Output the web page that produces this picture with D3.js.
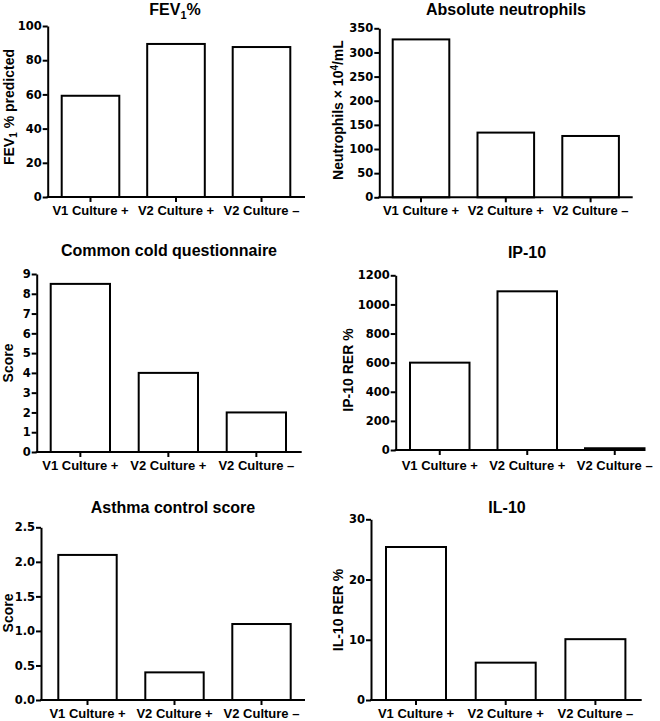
<!DOCTYPE html>
<html><head><meta charset="utf-8">
<script src="https://cdn.jsdelivr.net/npm/d3@7"></script>
<style>
body{margin:0;background:#fff;}
svg text{font-family:"Liberation Sans",Arial,Helvetica,sans-serif;font-weight:bold;fill:#000;}
svg .tick text{font-family:"DejaVu Sans",sans-serif;}
</style></head>
<body><svg id="c" width="660" height="721"></svg>
<script>
// ---- data ----
const categories = ["V1 Culture +", "V2 Culture +", "V2 Culture \u2013"];
const fev1Values = [59.2, 89.5, 87.7];
const neutrophilValues = [327, 134, 127];
const coldScoreValues = [8.5, 4.0, 2.0];
const ip10Values = [600, 1090, 12];
const asthmaValues = [2.1, 0.4, 1.1];
const il10Values = [25.4, 6.2, 10.1];
const fev1Ticks = [0, 20, 40, 60, 80, 100];
const neutrophilTicks = [0, 50, 100, 150, 200, 250, 300, 350];
const coldTicks = [0, 1, 2, 3, 4, 5, 6, 7, 8, 9];
const ip10Ticks = [0, 200, 400, 600, 800, 1000, 1200];
const asthmaTicks = [0, 0.5, 1.0, 1.5, 2.0, 2.5];
const il10Ticks = [0, 10, 20, 30];

// ---- layout ----
const panels = [
  {values: fev1Values, ticks: fev1Ticks, fmt: d3.format("d"), title: ["FEV", "1", "%"], ylab: "fev",
   ax: 47.7, y0: 197, yTop: 26, barStart: 61.7, barW: 57.6, step: 85.5, xEnd: 305,
   tx: 175, ty: 15, lx: 9, ly: 107, xlY: 215},
  {values: neutrophilValues, ticks: neutrophilTicks, fmt: d3.format("d"), title: ["Absolute neutrophils"], ylab: "neu",
   ax: 379.3, y0: 197.3, yTop: 28.3, barStart: 392.7, barW: 56.6, step: 84.8, xEnd: 632.7,
   tx: 506, ty: 15, lx: 338.5, ly: 110, xlY: 215},
  {values: coldScoreValues, ticks: coldTicks, fmt: d3.format("d"), title: ["Common cold questionnaire"], ylab: "Score",
   ax: 36.7, y0: 452, yTop: 274, barStart: 50.7, barW: 59.3, step: 88, xEnd: 301.7,
   tx: 169, ty: 256, lx: 8, ly: 363, xlY: 470},
  {values: ip10Values, ticks: ip10Ticks, fmt: d3.format("d"), title: ["IP-10"], ylab: "IP-10 RER %",
   ax: 395.7, y0: 450, yTop: 275.3, barStart: 410, barW: 59.5, step: 87.5, xEnd: 645,
   tx: 527, ty: 258, lx: 348, ly: 370, xlY: 470},
  {values: asthmaValues, ticks: asthmaTicks, fmt: d3.format(".1f"), title: ["Asthma control score"], ylab: "Score",
   ax: 41, y0: 700, yTop: 527.3, barStart: 58.3, barW: 58.4, step: 87, xEnd: 305,
   tx: 173, ty: 513, lx: 8, ly: 613, xlY: 718},
  {values: il10Values, ticks: il10Ticks, fmt: d3.format("d"), title: ["IL-10"], ylab: "IL-10 RER %",
   ax: 371, y0: 700, yTop: 519.3, barStart: 386, barW: 60, step: 89.7, xEnd: 641.7,
   tx: 507, ty: 513, lx: 338, ly: 610, xlY: 718}
];

const svg = d3.select("#c");

panels.forEach(p => {
  const g = svg.append("g");
  const yMax = p.ticks[p.ticks.length - 1];
  const y = d3.scaleLinear().domain([0, yMax]).range([p.y0, p.yTop]);
  const pad = p.step - p.barW;
  const inner = pad / p.step;
  const r0 = p.barStart - pad / 2;
  const x = d3.scaleBand().domain(categories)
    .range([r0, r0 + p.step * categories.length]).paddingInner(inner).paddingOuter(inner / 2);

  // bars
  g.selectAll("rect.bar").data(p.values).join("rect")
    .attr("class", "bar")
    .attr("x", (d, i) => x(categories[i]))
    .attr("width", x.bandwidth())
    .attr("y", d => y(d))
    .attr("height", d => p.y0 - y(d))
    .attr("fill", "#fff").attr("stroke", "#000").attr("stroke-width", 2);

  // y axis
  const ya = g.append("g").attr("transform", `translate(${p.ax},0)`)
    .call(d3.axisLeft(y).tickValues(p.ticks).tickFormat(p.fmt).tickSize(5).tickPadding(1).tickSizeOuter(0));
  ya.selectAll("path.domain").attr("stroke-width", 2);
  ya.selectAll(".tick line").attr("stroke-width", 2);
  ya.selectAll(".tick text").attr("font-size", 11.5).attr("font-family", null).attr("fill", "#000");

  // x axis
  const xa = g.append("g").attr("transform", `translate(0,${p.y0})`)
    .call(d3.axisBottom(x).tickSize(5).tickPadding(4).tickSizeOuter(0));
  xa.select("path.domain").remove();
  xa.append("line").attr("x1", p.ax - 1).attr("x2", p.xEnd).attr("y1", 0).attr("y2", 0)
    .attr("stroke", "#000").attr("stroke-width", 2);
  xa.selectAll(".tick line").attr("stroke-width", 2);
  xa.selectAll(".tick text").remove();
  g.selectAll("text.xl").data(categories).join("text").attr("class", "xl")
    .attr("x", d => x(d) + x.bandwidth() / 2).attr("y", p.xlY)
    .attr("text-anchor", "middle").attr("font-size", 13).text(d => d);

  // title
  const t = g.append("text").attr("x", p.tx).attr("y", p.ty).attr("text-anchor", "middle").attr("font-size", 16);
  if (p.title.length === 3) {
    t.append("tspan").text(p.title[0]);
    t.append("tspan").attr("font-size", 11).attr("dy", 4).text(p.title[1]);
    t.append("tspan").attr("dy", -4).text(p.title[2]);
  } else t.text(p.title[0]);

  // y label
  const yl = g.append("text").attr("transform", `translate(${p.lx},${p.ly}) rotate(-90)`)
    .attr("text-anchor", "middle").attr("font-size", 14).attr("dy", "0.35em");
  if (p.ylab === "fev") {
    yl.append("tspan").text("FEV");
    yl.append("tspan").attr("font-size", 10).attr("dy", 3).text("1");
    yl.append("tspan").attr("dy", -3).text(" % predicted");
  } else if (p.ylab === "neu") {
    yl.append("tspan").text("Neutrophils \u00d7 10");
    yl.append("tspan").attr("font-size", 10).attr("dy", -5).text("4");
    yl.append("tspan").attr("dy", 5).text("/mL");
  } else yl.text(p.ylab);
});
</script></body></html>
